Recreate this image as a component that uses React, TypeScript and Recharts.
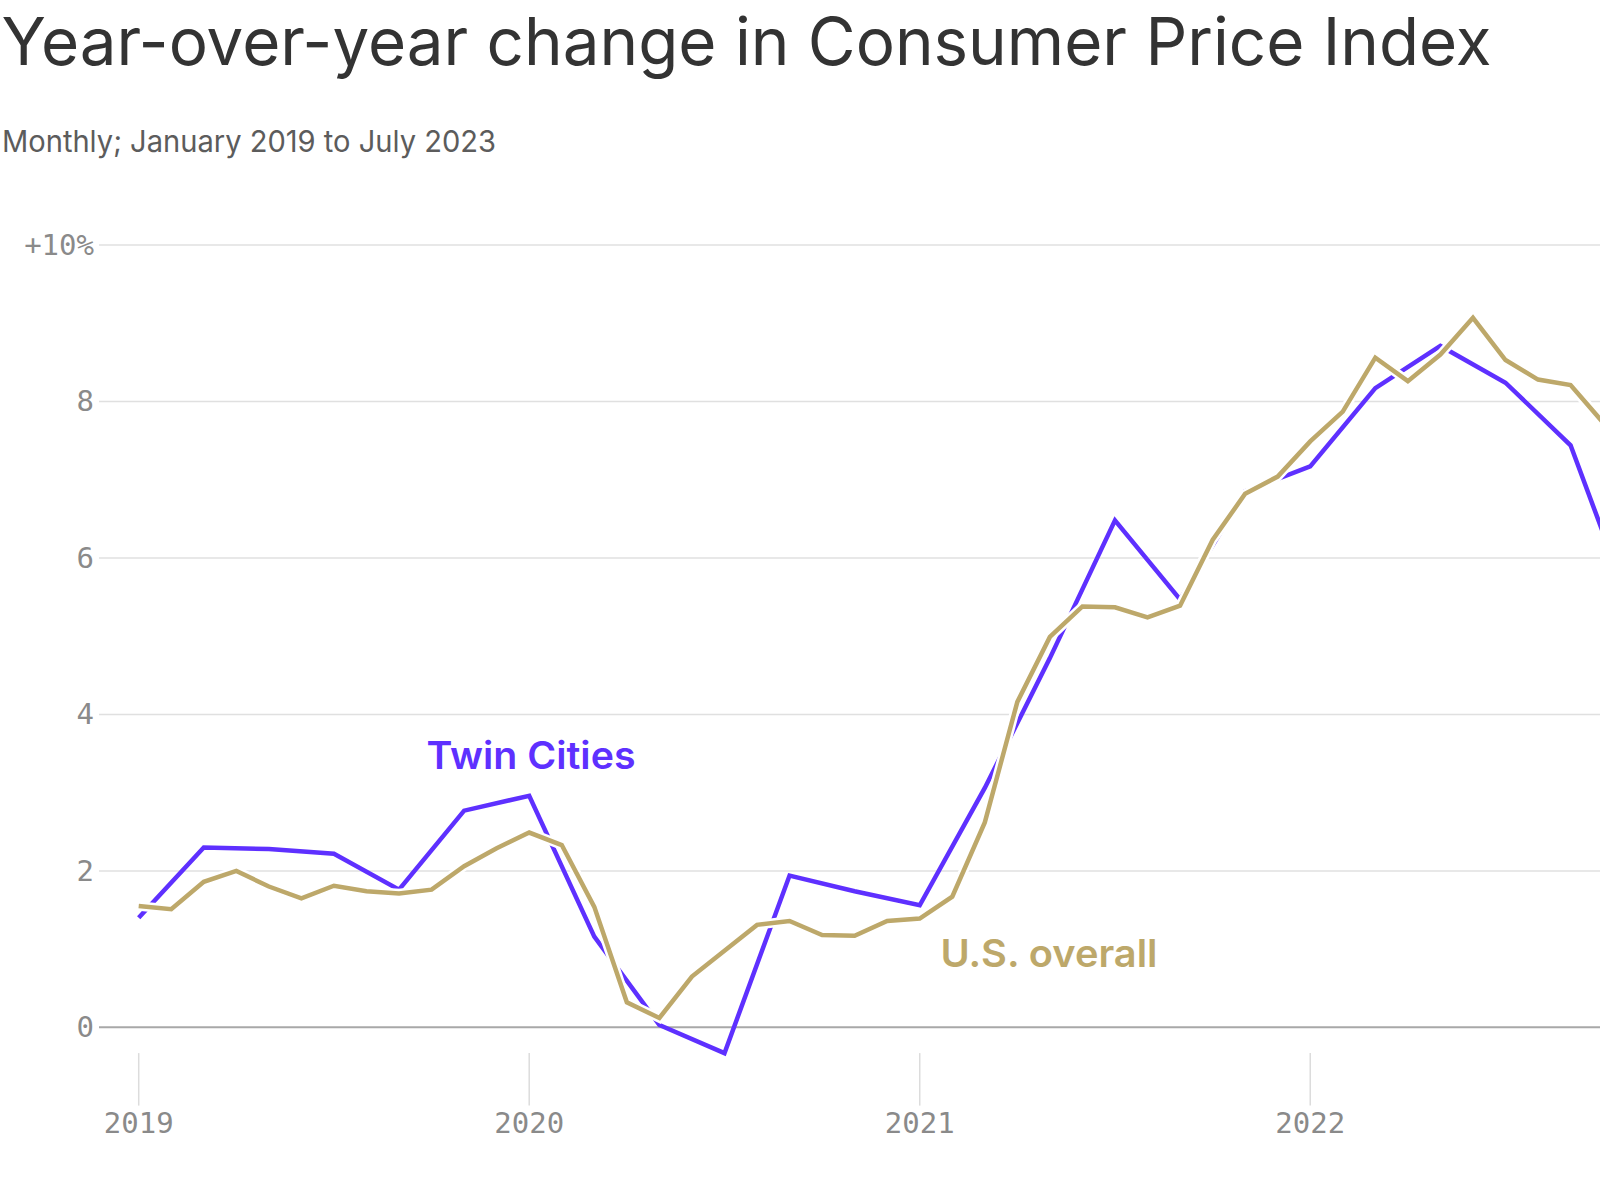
import React from "react";
import { LineChart, Line, XAxis, YAxis, ReferenceLine } from "recharts";

// Month index 0 = January 2019
const usOverall: number[] = [
  1.55, 1.51, 1.86, 2.0, 1.8, 1.65, 1.81, 1.74, 1.71, 1.76, 2.06, 2.29,
  2.49, 2.33, 1.54, 0.32, 0.12, 0.65, 0.98, 1.31, 1.36, 1.18, 1.17, 1.36,
  1.39, 1.67, 2.62, 4.16, 4.99, 5.38, 5.37, 5.24, 5.39, 6.23, 6.82, 7.04,
  7.49, 7.87, 8.56, 8.26, 8.6, 9.07, 8.53, 8.28, 8.21, 7.73,
];

// Twin Cities CPI is published every other month (Jan, Mar, May, ...)
const twinCitiesMonths: number[] = [0, 2, 4, 6, 8, 10, 12, 14, 16, 18, 20, 22, 24, 26, 28, 30, 32, 34, 36, 38, 40, 42, 44, 46];
const twinCities: number[] = [
  1.4, 2.3, 2.28, 2.22, 1.76, 2.77, 2.96, 1.16, 0.03, -0.33, 1.94, 1.74,
  1.56, 3.06, 4.72, 6.48, 5.47, 6.85, 7.17, 8.17, 8.71, 8.24, 7.44, 5.2,
];

const yearTicks: number[] = [0, 12, 24, 36];
const yearLabels: string[] = ["2019", "2020", "2021", "2022"];
const valueTicks: number[] = [0, 2, 4, 6, 8, 10];

const lastMonth = 46;
const table = Array.from({ length: lastMonth + 1 }, (_, m) => {
  const ti = twinCitiesMonths.indexOf(m);
  return {
    m,
    us: m < usOverall.length ? usOverall[m] : null,
    tc: ti >= 0 ? twinCities[ti] : null,
  };
});

const PURPLE = "#5e30ff";
const GOLD = "#bda86a";
const MONO = "'DejaVu Sans Mono', monospace";

const YTick = (props: any) => {
  const { y, payload } = props;
  const v = payload.value;
  return (
    <text x={94} y={y} textAnchor="end" dominantBaseline="central" fill="#8a8a8a" fontFamily={MONO} fontSize={29}>
      {v === 10 ? "+10%" : String(v)}
    </text>
  );
};

const XTick = (props: any) => {
  const { x, y, payload } = props;
  const idx = yearTicks.indexOf(payload.value);
  return (
    <g>
      <line x1={x} x2={x} y1={y - 52.5} y2={y} stroke="#dcdcdc" strokeWidth={1.5} />
      <text x={x} y={y + 27.5} textAnchor="middle" fill="#8a8a8a" fontFamily={MONO} fontSize={29}>
        {idx >= 0 ? yearLabels[idx] : ""}
      </text>
    </g>
  );
};

export default function App() {
  return (
    <div
      style={{
        position: "fixed",
        left: 0,
        top: 0,
        width: 1600,
        height: 1200,
        overflow: "hidden",
        background: "#fff",
      }}
    >
      <div style={{ position: "absolute", left: 0, top: 0 }}>
        <LineChart
          width={1950}
          height={1200}
          data={table}
          margin={{ top: 245, right: 54, bottom: 34.4, left: 0 }}
        >
          <XAxis
            dataKey="m"
            type="number"
            domain={[0, 54]}
            ticks={yearTicks}
            padding={{ left: 39.7, right: 0 }}
            axisLine={false}
            tickLine={false}
            tickSize={0}
            tickMargin={0}
            height={60}
            tick={<XTick />}
            interval={0}
          />
          <YAxis
            type="number"
            domain={[-1, 10]}
            ticks={valueTicks}
            width={99}
            axisLine={false}
            tickLine={false}
            tick={<YTick />}
            interval={0}
          />
          {valueTicks
            .filter((v) => v !== 0)
            .map((v) => (
              <ReferenceLine key={v} y={v} stroke="#e0e0e0" strokeWidth={1.5} />
            ))}
          <ReferenceLine y={0} stroke="#a8a8a8" strokeWidth={2} />
          <Line
            dataKey="tc"
            stroke={PURPLE}
            strokeWidth={4.5}
            dot={false}
            activeDot={false}
            connectNulls
            isAnimationActive={false}
          />
          <Line
            dataKey="us"
            stroke="#ffffff"
            strokeWidth={9.5}
            dot={false}
            activeDot={false}
            isAnimationActive={false}
          />
          <Line
            dataKey="us"
            stroke={GOLD}
            strokeWidth={4.5}
            dot={false}
            activeDot={false}
            isAnimationActive={false}
          />
        </LineChart>
      </div>
      <svg
        width={1600}
        height={1200}
        style={{ position: "absolute", left: 0, top: 0, pointerEvents: "none" }}
      >
        <text
          x={1.5}
          y={65}
          fill="#333333"
          fontFamily="Inter, 'Noto Sans', sans-serif"
          fontSize={66}
          textLength={1490}
          lengthAdjust="spacingAndGlyphs"
        >
          Year-over-year change in Consumer Price Index
        </text>
        <text
          x={2}
          y={151.5}
          fill="#5c5c5c"
          fontFamily="Inter, 'Noto Sans', sans-serif"
          fontSize={30}
          textLength={494}
          lengthAdjust="spacingAndGlyphs"
        >
          Monthly; January 2019 to July 2023
        </text>
        <text
          x={426.5}
          y={769}
          fill={PURPLE}
          fontFamily="Inter, 'Noto Sans', sans-serif"
          fontWeight={600}
          fontSize={38}
          textLength={209}
          lengthAdjust="spacingAndGlyphs"
        >
          Twin Cities
        </text>
        <text
          x={940.5}
          y={966.5}
          fill={GOLD}
          fontFamily="Inter, 'Noto Sans', sans-serif"
          fontWeight={600}
          fontSize={38}
          textLength={217}
          lengthAdjust="spacingAndGlyphs"
        >
          U.S. overall
        </text>
      </svg>
    </div>
  );
}
